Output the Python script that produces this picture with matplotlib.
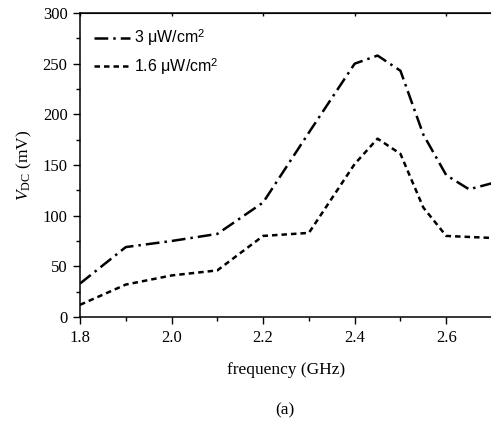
import matplotlib
matplotlib.use('Agg')
import matplotlib.pyplot as plt
from matplotlib.ticker import MultipleLocator

# 频率 (GHz)
freq = [1.8, 1.9, 2.0, 2.1, 2.2, 2.3, 2.4, 2.45, 2.5, 2.55, 2.6, 2.65, 2.7]
# V_DC (mV)
v_3uw = [33, 69, 75, 82, 113, 182, 250, 258, 243, 180, 140, 126, 132]
v_16uw = [12, 32, 41, 46, 80, 83, 151, 176, 161, 108, 80, 79, 78]

labels = ['3 \u03bcW/cm$^{\\mathsf{2}}$', '1.6 \u03bcW/cm$^{\\mathsf{2}}$']

plt.rcParams['font.family'] = ['Liberation Serif', 'DejaVu Serif']
plt.rcParams['mathtext.fontset'] = 'custom'
plt.rcParams['mathtext.rm'] = 'Liberation Serif'
plt.rcParams['mathtext.it'] = 'Liberation Serif:italic'
plt.rcParams['mathtext.sf'] = 'Liberation Sans'

fig = plt.figure(figsize=(4.91, 4.32), dpi=100)
ax = fig.add_axes([80 / 491, 1 - 317 / 432, 412 / 491, 304 / 432])

ax.plot(freq, v_3uw, color='black', lw=1.8, dashes=(5.5, 2, 1, 2), label=labels[0])
ax.plot(freq, v_16uw, color='black', lw=1.8, dashes=(2.2, 1.6), label=labels[1])

ax.set_xlim(1.8, 2.7)
ax.set_ylim(0, 300)
ax.xaxis.set_major_locator(MultipleLocator(0.2))
ax.xaxis.set_minor_locator(MultipleLocator(0.1))
ax.yaxis.set_major_locator(MultipleLocator(50))
ax.yaxis.set_minor_locator(MultipleLocator(25))
ax.xaxis.set_major_formatter(matplotlib.ticker.FormatStrFormatter('%.1f'))

ax.tick_params(which='major', direction='out', length=5, width=1, labelsize=12, pad=4)
ax.tick_params(which='minor', direction='out', length=3, width=1)
# 顶部的小刻度朝内
ax.secondary_xaxis('top').tick_params(which='both', direction='in', length=2, width=1,
                                      labelsize=0, labeltop=False)
for sp in ax.spines.values():
    sp.set_linewidth(1.1)
ax.spines['right'].set_visible(False)

ax.set_xlabel('frequency (GHz)', fontsize=12.5, labelpad=12)
ax.set_ylabel('$V_{\\mathrm{DC}}$ (mV)', fontsize=12.5, labelpad=6)

leg = ax.legend(loc='upper left', frameon=False, handlelength=2.2, handletextpad=0.3,
                labelspacing=0.45, borderaxespad=0.5,
                prop={'family': ['Liberation Sans', 'DejaVu Sans'], 'size': 11.5})

fig.text(285 / 491, 1 - 410 / 432, '(a)', ha='center', va='center', fontsize=12.5)

fig.savefig('out.png', dpi=100)
